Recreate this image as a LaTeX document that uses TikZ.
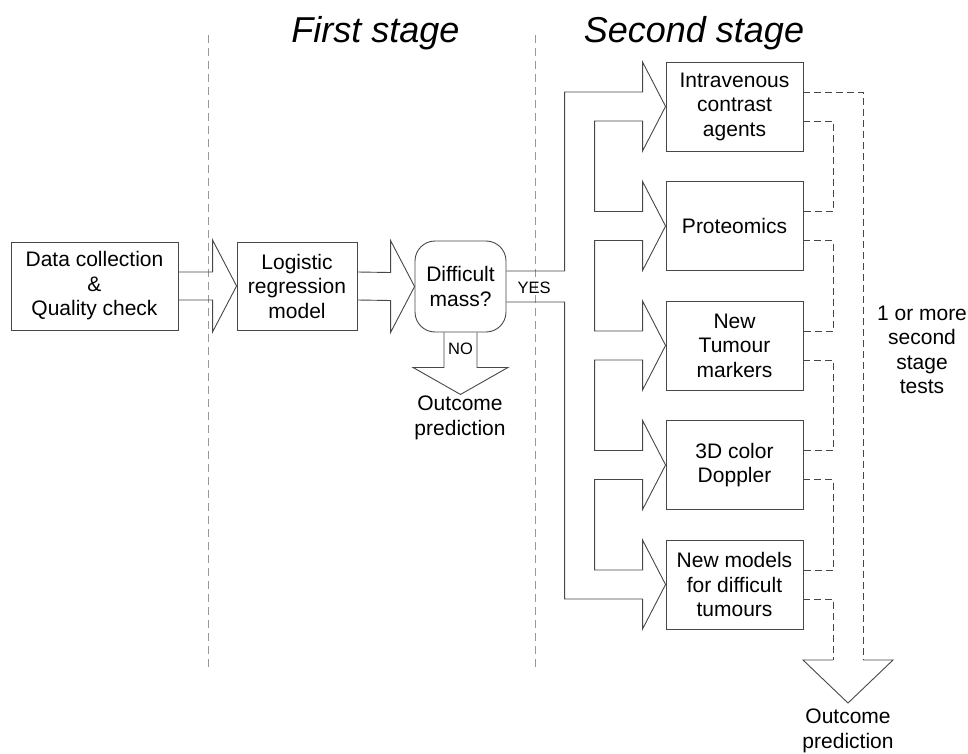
\documentclass[tikz,border=0pt]{standalone}
\usepackage{fontspec}
\setmainfont{Liberation Sans}
\usetikzlibrary{calc}
\begin{document}
\begin{tikzpicture}[x=1pt,y=-1pt,
  line width=0.9pt,
  ln/.style={draw=black!72, line width=0.9pt, line join=miter},
  box/.style={draw=black!72, line width=0.9pt, align=center, font=\fontsize{21}{24.5}\selectfont, inner sep=0pt},
  lbl/.style={align=center, font=\fontsize{21}{24.5}\selectfont, inner sep=0pt},
  small/.style={align=center, font=\fontsize{16.5}{20}\selectfont, inner sep=0pt},
  ttl/.style={font=\fontsize{36}{40}\selectfont\itshape, inner sep=0pt},
  sep/.style={draw=black!40, dash pattern=on 8pt off 5pt, line width=0.8pt},
  dsh/.style={draw=black!72, dash pattern=on 7pt off 4pt, line width=0.9pt}]
\useasboundingbox (0,0) rectangle (968,754);

% stage titles and separators
\node[ttl, anchor=base] (t1) at (375.5,43) {First stage};
\node[ttl, anchor=base] (t2) at (694,43) {Second stage};
\draw[sep] (208,35) -- (208,670);
\draw[sep] (535,35) -- (535,670);

% first stage boxes
\node[box, minimum width=167pt, minimum height=88pt] (data) at (94.5,286) {Data collection\\\&\\Quality check};
\node[box, minimum width=120pt, minimum height=88pt] (logit) at (297,286) {Logistic\\regression\\model};
\node[box, rounded corners=20pt, minimum width=91pt, minimum height=91pt] (diff) at (460.5,286.5) {Difficult\\mass?};

% second stage boxes
\node[box, minimum width=137pt, minimum height=89pt] (b1) at (734.5,106.5) {Intravenous\\contrast\\agents};
\node[box, minimum width=137pt, minimum height=89pt] (b2) at (734.5,226) {Proteomics};
\node[box, minimum width=137pt, minimum height=89pt] (b3) at (734.5,345.5) {New\\Tumour\\markers};
\node[box, minimum width=137pt, minimum height=89pt] (b4) at (734.5,465) {3D color\\Doppler};
\node[box, minimum width=137pt, minimum height=89pt] (b5) at (734.5,584.5) {New models\\for difficult\\tumours};

% block arrow data -> logit
\draw[ln] ($(data.east)+(0,-14)$) -- ($(logit.west)+(-24,-14)$) -- ($(logit.west)+(-24,-46)$) -- (logit.west)
  -- ($(logit.west)+(-24,46)$) -- ($(logit.west)+(-24,14)$) -- ($(data.east)+(0,14)$);
% block arrow logit -> diff
\draw[ln] ($(logit.east)+(0,-14)$) -- ($(diff.west)+(-24,-14)$) -- ($(diff.west)+(-24,-46)$) -- (diff.west)
  -- ($(diff.west)+(-24,46)$) -- ($(diff.west)+(-24,14)$) -- ($(logit.east)+(0,14)$);

% NO arrow
\coordinate (notip) at ($(diff.south)+(0,62)$);
\draw[ln] ($(diff.south)+(-16.5,0)$) -- ($(diff.south)+(-16.5,35)$) -- ($(diff.south)+(-47.5,35)$) -- (notip)
  -- ($(diff.south)+(47.5,35)$) -- ($(diff.south)+(16.5,35)$) -- ($(diff.south)+(16.5,0)$);
\node[small] (no) at ($(diff.south)+(0,16)$) {NO};
\node[lbl] (out1) at (460,418) {Outcome\\prediction};

% YES branching block arrow
\node[small] (yes) at (534,287.5) {YES};
\draw[ln] ($(diff.east)+(0,-15.5)$) -| ($(b1.west)+(-101,-14.5)$)
  -- ($(b1.west)+(-23,-14.5)$) -- ($(b1.west)+(-23,-44.5)$) -- (b1.west) -- ($(b1.west)+(-23,44.5)$) -- ($(b1.west)+(-23,14.5)$) -- ($(b1.west)+(-71,14.5)$)
  -- ($(b2.west)+(-71,-14.5)$) -- ($(b2.west)+(-23,-14.5)$) -- ($(b2.west)+(-23,-44.5)$) -- (b2.west) -- ($(b2.west)+(-23,44.5)$) -- ($(b2.west)+(-23,14.5)$) -- ($(b2.west)+(-71,14.5)$)
  -- ($(b3.west)+(-71,-14.5)$) -- ($(b3.west)+(-23,-14.5)$) -- ($(b3.west)+(-23,-44.5)$) -- (b3.west) -- ($(b3.west)+(-23,44.5)$) -- ($(b3.west)+(-23,14.5)$) -- ($(b3.west)+(-71,14.5)$)
  -- ($(b4.west)+(-71,-14.5)$) -- ($(b4.west)+(-23,-14.5)$) -- ($(b4.west)+(-23,-44.5)$) -- (b4.west) -- ($(b4.west)+(-23,44.5)$) -- ($(b4.west)+(-23,14.5)$) -- ($(b4.west)+(-71,14.5)$)
  -- ($(b5.west)+(-71,-14.5)$) -- ($(b5.west)+(-23,-14.5)$) -- ($(b5.west)+(-23,-44.5)$) -- (b5.west) -- ($(b5.west)+(-23,44.5)$) -- ($(b5.west)+(-23,14.5)$) -- ($(b5.west)+(-101,14.5)$)
  |- ($(diff.east)+(0,15.5)$);

% dashed collecting arrow on the right
\coordinate (tip) at (848,703);
\draw[dsh] ($(b1.east)+(0,-14.5)$) -| ($(tip)+(15,-43)$);
\draw[dsh] ($(b1.east)+(0,14.5)$) -| ($(b1.east)+(30,14.5)$) |- ($(b2.east)+(0,-14.5)$);
\draw[dsh] ($(b2.east)+(0,14.5)$) -| ($(b2.east)+(30,14.5)$) |- ($(b3.east)+(0,-14.5)$);
\draw[dsh] ($(b3.east)+(0,14.5)$) -| ($(b3.east)+(30,14.5)$) |- ($(b4.east)+(0,-14.5)$);
\draw[dsh] ($(b4.east)+(0,14.5)$) -| ($(b4.east)+(30,14.5)$) |- ($(b5.east)+(0,-14.5)$);
\draw[dsh] ($(b5.east)+(0,14.5)$) -| ($(tip)+(-15,-43)$);
\draw[ln] ($(tip)+(-15,-43)$) -- ($(tip)+(-45,-43)$) -- (tip) -- ($(tip)+(45,-43)$) -- ($(tip)+(15,-43)$);
\node[lbl] (out2) at (848,731) {Outcome\\prediction};
\node[lbl] (tests) at (922,350) {1 or more\\second\\stage\\tests};
\end{tikzpicture}
\end{document}
